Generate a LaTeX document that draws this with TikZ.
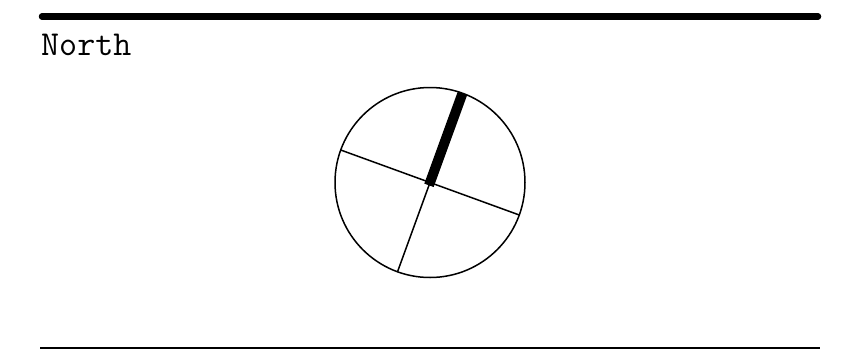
\documentclass[tikz,border=0pt]{standalone}
\usepackage{tikz}

\begin{document}
\begin{tikzpicture}[
x=1pt, y=-1pt,
rule/.style={line cap=round, line width=6.5pt},
baseline rule/.style={line width=2pt},
title/.style={anchor=base west, inner sep=0pt, font=\fontsize{35}{40}\selectfont\ttfamily},
dialface/.style={draw, circle, line width=1.5pt, minimum size=190pt, inner sep=0pt, outer sep=0pt},
hand/.style={line width=1.5pt},
northhand/.style={line width=10pt, shorten <=-3pt}
]
\useasboundingbox (0,0) rectangle (847,349);
\draw[rule] (42,16.5) -- (818,16.5);
\node[title] (north) at (41,55) {North};
\node[dialface] (dial) at (430,182.5) {};
\draw[hand] (dial.160) -- (dial.340);
\draw[hand] (dial.250) -- (dial.center);
\draw[northhand] (dial.center) -- (dial.70);
\draw[baseline rule] (40,348) -- (820,348);
\end{tikzpicture}
\end{document}
